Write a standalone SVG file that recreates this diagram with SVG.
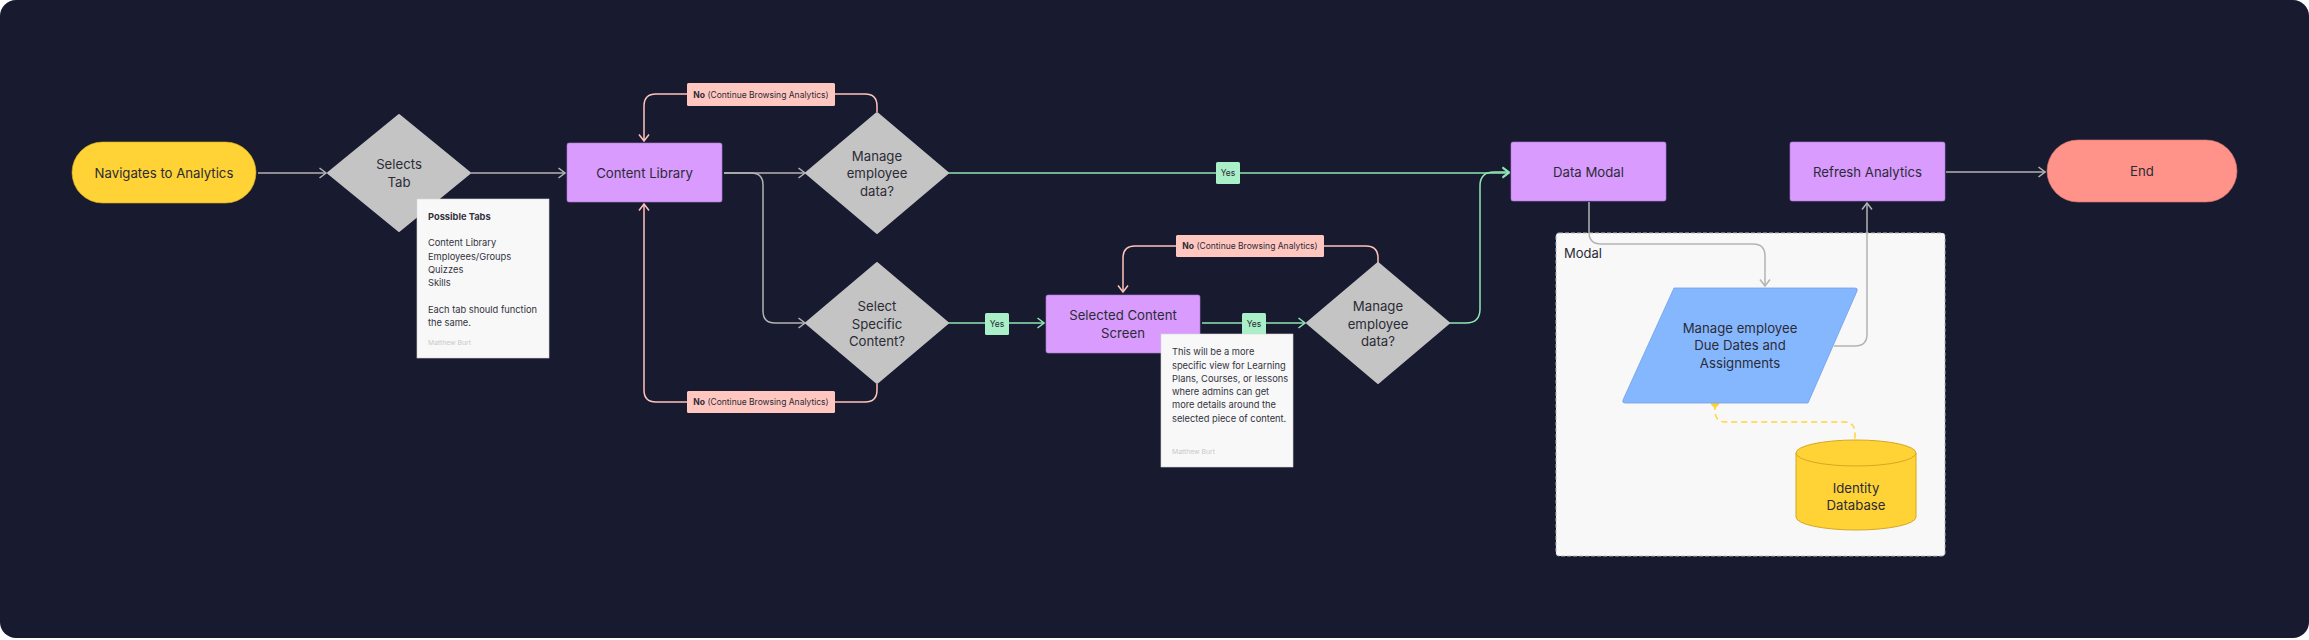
<svg xmlns="http://www.w3.org/2000/svg" width="2309" height="640" viewBox="0 0 2309 640">
<defs>
<style>
.t{font-family:Inter,"Noto Sans","Liberation Sans",sans-serif;fill:#2b2b36;}
.n{font-size:13.2px;text-anchor:middle;}
.nt{font-size:9.3px;fill:#333340;}
.sig{font-size:6.8px;fill:#c9c9c9;}
.lb{font-size:8.5px;text-anchor:middle;fill:#2b2b36;}
.g{fill:none;stroke:#b3b3b3;stroke-width:1.5;}
.p{fill:none;stroke:#ffc4bc;stroke-width:1.5;}
.gr{fill:none;stroke:#8fe6b5;stroke-width:1.5;}
.pur{fill:#d99bfd;stroke:#b07cd0;stroke-width:0.6;}
.dia{fill:#c4c4c4;stroke:#c4c4c4;stroke-width:2;stroke-linejoin:round;}
.note{fill:#f8f8f8;stroke:#d8d8d8;stroke-width:0.6;}
.nol{fill:#ffc7c0;}
.yes{fill:#a9f0c8;}
</style>
<marker id="ag" viewBox="0 0 12 12" refX="11" refY="6" markerWidth="12" markerHeight="12" markerUnits="userSpaceOnUse" orient="auto"><path d="M4.5,1 L11,6 L4.5,11" fill="none" stroke="#b3b3b3" stroke-width="1.5"/></marker>
<marker id="ap" viewBox="0 0 12 12" refX="11" refY="6" markerWidth="12" markerHeight="12" markerUnits="userSpaceOnUse" orient="auto"><path d="M4.5,1 L11,6 L4.5,11" fill="none" stroke="#ffc4bc" stroke-width="1.5"/></marker>
<marker id="agr" viewBox="0 0 12 12" refX="11" refY="6" markerWidth="12" markerHeight="12" markerUnits="userSpaceOnUse" orient="auto"><path d="M4.5,1 L11,6 L4.5,11" fill="none" stroke="#8fe6b5" stroke-width="1.5"/></marker>
<marker id="dy" viewBox="0 0 10 10" refX="5" refY="5" markerWidth="9" markerHeight="9" markerUnits="userSpaceOnUse" orient="auto"><path d="M5,0 L10,5 L5,10 L0,5 Z" fill="#ffd335"/></marker>
</defs>

<rect x="0" y="0" width="2309" height="640" fill="#ffffff"/>
<rect x="0" y="0" width="2309" height="638" rx="16" fill="#181a2f"/>

<g id="modal">
<rect x="1556" y="233" width="389" height="323" rx="3" fill="#f8f8f8" stroke="#b8b8b8" stroke-width="1" stroke-dasharray="4 2"/>
<text class="t" x="1564" y="258" font-size="13">Modal</text>
</g>

<g id="connectors">
<path class="g" d="M258,173 H326" marker-end="url(#ag)"/>
<path class="g" d="M471,173 H565" marker-end="url(#ag)"/>
<path class="g" d="M724,173 H805" marker-end="url(#ag)"/>
<path class="g" d="M724,173 H751 Q763,173 763,185 V311 Q763,323 775,323 H805" marker-end="url(#ag)"/>
<path class="p" d="M877,112 V106 Q877,94 865,94 H656 Q644,94 644,106 V141" marker-end="url(#ap)"/>
<path class="p" d="M877,384 V390 Q877,402 865,402 H656 Q644,402 644,390 V204" marker-end="url(#ap)"/>
<path class="gr" d="M948,173 H1509" marker-end="url(#agr)"/>
<path class="gr" d="M948,323 H1044" marker-end="url(#agr)"/>
<path class="gr" d="M1202,323 H1305" marker-end="url(#agr)"/>
<path class="p" d="M1378,263 V258 Q1378,246 1366,246 H1135 Q1123,246 1123,258 V292" marker-end="url(#ap)"/>
<path class="gr" d="M1449,323 H1466 Q1480,323 1480,309 V186 Q1480,172 1494,172 H1509" marker-end="url(#agr)"/>
<path class="g" d="M1589,202 V232 Q1589,244 1601,244 H1753 Q1765,244 1765,256 V286" marker-end="url(#ag)"/>
<path class="g" d="M1834,346 H1855 Q1867,346 1867,334 V203" marker-end="url(#ag)"/>
<path class="g" d="M1946,172 H2045" marker-end="url(#ag)"/>
<path d="M1715,404 V411 Q1715,422 1726,422 H1844 Q1855,422 1855,433 V440" fill="none" stroke="#ffd335" stroke-width="1.5" stroke-dasharray="6 4" marker-start="url(#dy)"/>
<rect class="nol" x="687" y="83" width="148" height="23" rx="1.5"/>
<text class="t lb" x="761" y="97.5"><tspan font-weight="700">No</tspan> (Continue Browsing Analytics)</text>
<rect class="nol" x="687" y="391" width="148" height="22" rx="1.5"/>
<text class="t lb" x="761" y="405"><tspan font-weight="700">No</tspan> (Continue Browsing Analytics)</text>
<rect class="nol" x="1176" y="235" width="148" height="22" rx="1.5"/>
<text class="t lb" x="1250" y="249"><tspan font-weight="700">No</tspan> (Continue Browsing Analytics)</text>
<rect class="yes" x="1216" y="162" width="24" height="22" rx="1.5"/>
<text class="t lb" x="1228" y="176">Yes</text>
<rect class="yes" x="985" y="313" width="24" height="22" rx="1.5"/>
<text class="t lb" x="997" y="327">Yes</text>
<rect class="yes" x="1242" y="313" width="24" height="22" rx="1.5"/>
<text class="t lb" x="1254" y="327">Yes</text>
</g>

<g id="navigates">
<rect x="72" y="142" width="184" height="61" rx="30.5" fill="#ffd335" stroke="#d9ae20" stroke-width="0.6"/>
<text class="t n" x="164" y="177.5">Navigates to Analytics</text>
</g>

<g id="selects-tab">
<path class="dia" d="M399,115 L470,173 L399,231 L328,173 Z"/>
<text class="t n" x="399" y="169">Selects</text>
<text class="t n" x="399" y="187">Tab</text>
</g>

<g id="content-library">
<rect class="pur" x="567" y="143" width="155" height="59" rx="2"/>
<text class="t n" x="644.5" y="177.5">Content Library</text>
</g>

<g id="manage-1">
<path class="dia" d="M877,113 L948,173 L877,233 L806,173 Z"/>
<text class="t n" x="877" y="160.5">Manage</text>
<text class="t n" x="877" y="178">employee</text>
<text class="t n" x="877" y="195.5">data?</text>
</g>

<g id="select-specific">
<path class="dia" d="M877,263 L948,323 L877,383 L806,323 Z"/>
<text class="t n" x="877" y="311">Select</text>
<text class="t n" x="877" y="328.5">Specific</text>
<text class="t n" x="877" y="346">Content?</text>
</g>

<g id="selected-content">
<rect class="pur" x="1046" y="295" width="154" height="58" rx="2"/>
<text class="t n" x="1123" y="320">Selected Content</text>
<text class="t n" x="1123" y="338">Screen</text>
</g>

<g id="manage-2">
<path class="dia" d="M1378,263 L1449,323 L1378,383 L1307,323 Z"/>
<text class="t n" x="1378" y="311">Manage</text>
<text class="t n" x="1378" y="328.5">employee</text>
<text class="t n" x="1378" y="346">data?</text>
</g>

<g id="data-modal">
<rect class="pur" x="1511" y="142" width="155" height="59" rx="2"/>
<text class="t n" x="1588.5" y="176.5">Data Modal</text>
</g>

<g id="refresh">
<rect class="pur" x="1790" y="142" width="155" height="59" rx="2"/>
<text class="t n" x="1867.5" y="176.5">Refresh Analytics</text>
</g>

<g id="end">
<rect x="2047" y="140" width="190" height="62" rx="31" fill="#ff938a" stroke="#d8756e" stroke-width="0.6"/>
<text class="t n" x="2142" y="176">End</text>
</g>

<g id="manage-due-dates">
<path d="M1674,288 L1855,288 Q1858,288 1857,291 L1808,403 L1625,403 Q1622,403 1623,400 Z" fill="#85b7ff" stroke="#6f9fe6" stroke-width="0.8"/>
<text class="t n" x="1740" y="332.5">Manage employee</text>
<text class="t n" x="1740" y="350">Due Dates and</text>
<text class="t n" x="1740" y="368">Assignments</text>
</g>

<g id="identity-db">
<path d="M1796,453 V517 A60,13 0 0 0 1916,517 V453 A60,13 0 0 0 1796,453 Z" fill="#ffd335" stroke="#d4a823" stroke-width="1"/>
<path d="M1796,453 A60,13 0 0 0 1916,453" fill="none" stroke="#d4a823" stroke-width="1"/>
<text class="t n" x="1856" y="492.5">Identity</text>
<text class="t n" x="1856" y="510">Database</text>
</g>

<g id="note-tabs">
<rect class="note" x="417" y="199" width="132" height="159"/>
<text class="t nt" x="428" y="220" font-weight="700">Possible Tabs</text>
<text class="t nt" x="428" y="246">Content Library</text>
<text class="t nt" x="428" y="259.5">Employees/Groups</text>
<text class="t nt" x="428" y="273">Quizzes</text>
<text class="t nt" x="428" y="286">Skills</text>
<text class="t nt" x="428" y="313">Each tab should function</text>
<text class="t nt" x="428" y="326">the same.</text>
<text class="t sig" x="428" y="345">Matthew Burt</text>
</g>

<g id="note-content">
<rect class="note" x="1161" y="334" width="132" height="133"/>
<text class="t nt" x="1172" y="355">This will be a more</text>
<text class="t nt" x="1172" y="368.5">specific view for Learning</text>
<text class="t nt" x="1172" y="381.5">Plans, Courses, or lessons</text>
<text class="t nt" x="1172" y="395">where admins can get</text>
<text class="t nt" x="1172" y="408">more details around the</text>
<text class="t nt" x="1172" y="421.5">selected piece of content.</text>
<text class="t sig" x="1172" y="454">Matthew Burt</text>
</g>
</svg>
